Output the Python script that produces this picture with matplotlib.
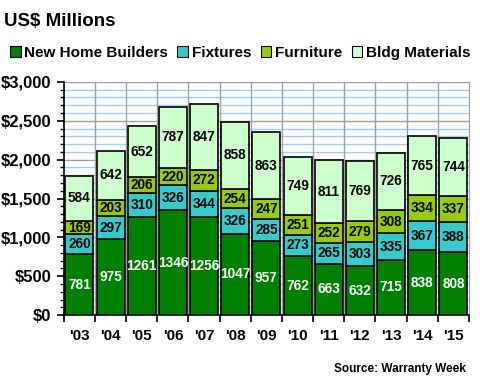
import matplotlib
matplotlib.use("Agg")
import matplotlib.pyplot as plt
import matplotlib.ticker as mticker
import numpy as np
from matplotlib.patches import Rectangle

plt.rcParams["font.family"] = ["Liberation Sans", "DejaVu Sans"]

years = ["'03", "'04", "'05", "'06", "'07", "'08", "'09", "'10", "'11", "'12", "'13", "'14", "'15"]
new_home = [781, 975, 1261, 1346, 1256, 1047, 957, 762, 663, 632, 715, 838, 808]
fixtures = [260, 297, 310, 326, 344, 326, 285, 273, 265, 303, 335, 367, 388]
furniture = [169, 203, 206, 220, 272, 254, 247, 251, 252, 279, 308, 334, 337]
bldg = [584, 642, 652, 787, 847, 858, 863, 749, 811, 769, 726, 765, 744]

series = [
    ("New Home Builders", new_home, "#008000", "white"),
    ("Fixtures", fixtures, "#33CCCC", "black"),
    ("Furniture", furniture, "#99CC00", "black"),
    ("Bldg Materials", bldg, "#CCFFCC", "black"),
]

fig = plt.figure(figsize=(4.8, 3.9), dpi=100)
ax = fig.add_axes([0.133, 0.192, 0.844, 0.598])

x = np.arange(len(years))
bottom = np.zeros(len(years))
for name, vals, col, tcol in series:
    vals = np.array(vals)
    ax.bar(x, vals, bottom=bottom, width=0.9, color=col, edgecolor="black",
           linewidth=1.2, zorder=3)
    for xi, b, v in zip(x, bottom, vals):
        ax.text(xi, b + v / 2, str(v), ha="center", va="center", fontsize=9.8,
                fontweight="bold", color=tcol, zorder=4)
    bottom += vals

ax.set_xlim(-0.5, len(years) - 0.5)
ax.set_ylim(0, 3000)

# grid: light blue every 100, gray every 500, gray between categories
for v in range(100, 3001, 100):
    c = "#A0A0A0" if v % 500 == 0 else "#99CCFF"
    ax.axhline(v, color=c, linewidth=1.0, zorder=1)
for xv in np.arange(0.5, len(years) - 0.5, 1):
    ax.axvline(xv, color="#A0A0A0", linewidth=1.0, zorder=1)

ax.yaxis.set_major_locator(mticker.MultipleLocator(500))
ax.yaxis.set_minor_locator(mticker.MultipleLocator(100))
ax.yaxis.set_major_formatter(mticker.FuncFormatter(lambda v, _: f"${v:,.0f}"))
ax.set_xticks(x)
ax.set_xticklabels(years)
ax.xaxis.set_minor_locator(mticker.FixedLocator(np.arange(-0.5, len(years), 1)))
ax.tick_params(axis="x", which="major", length=0, pad=10, labelsize=11)
ax.tick_params(axis="x", which="minor", length=5, width=1.2, direction="out")
ax.tick_params(axis="y", which="major", length=5, width=1.2, labelsize=12, pad=4)
ax.tick_params(axis="y", which="minor", length=3, width=1.0)
for lab in ax.get_xticklabels() + ax.get_yticklabels():
    lab.set_fontweight("bold")

ax.spines["top"].set_visible(False)
ax.spines["right"].set_color("#A0A0A0")
ax.spines["left"].set_linewidth(1.2)
ax.spines["bottom"].set_linewidth(1.2)

fig.text(0.008, 0.945, "US$ Millions", fontsize=13.5, fontweight="bold", va="center")

# legend row
handles = [Rectangle((0, 0), 1, 1, facecolor=c, edgecolor="black", linewidth=0.8)
           for _, _, c, _ in series]
fig.legend(handles, [s[0] for s in series], loc="center left",
           bbox_to_anchor=(-0.008, 0.865), ncol=4, frameon=False,
           prop={"weight": "bold", "size": 11}, handlelength=0.7,
           handleheight=0.7, handletextpad=0.25, columnspacing=0.6)

fig.text(0.97, 0.055, "Source: Warranty Week", fontsize=8.5, fontweight="bold",
         ha="right", va="center")

fig.savefig("out.png", dpi=100)
